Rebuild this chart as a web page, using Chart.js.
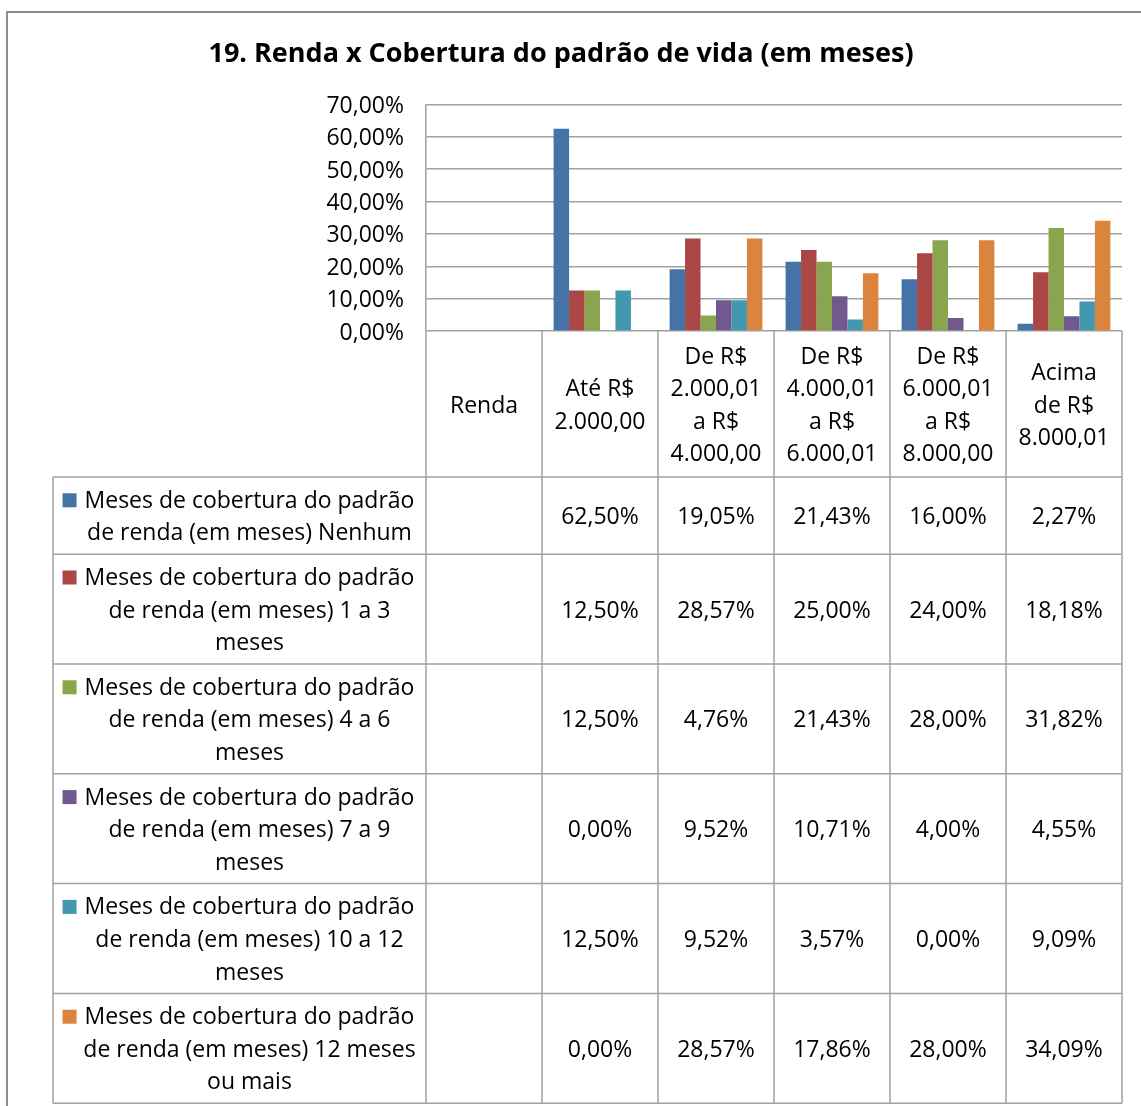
<!DOCTYPE html>
<html lang="pt-BR">
<head>
<meta charset="utf-8">
<title>19. Renda x Cobertura do padrão de vida (em meses)</title>
<script src="https://cdn.jsdelivr.net/npm/chart.js@4.4.1/dist/chart.umd.min.js"></script>
<style>
  html, body { margin: 0; padding: 0; background: #fff; }
  #wrap { position: relative; width: 1141px; height: 1106px; overflow: hidden; }
  #frame { position: absolute; left: 6px; top: 11px; width: 1200px; height: 1200px; border: 2px solid #8c8c8c; }
  canvas { position: absolute; left: 0; top: 0; }
</style>
</head>
<body>
<div id="wrap">
  <div id="frame"></div>
  <canvas id="chart" width="1141" height="1106"></canvas>
</div>
<script>
// categories (already split into lines, like the data table header)
const categories = [
  ["Renda"],
  ["Até R$", "2.000,00"],
  ["De R$", "2.000,01", "a R$", "4.000,00"],
  ["De R$", "4.000,01", "a R$", "6.000,01"],
  ["De R$", "6.000,01", "a R$", "8.000,00"],
  ["Acima", "de R$", "8.000,01"]
];

const seriesNames = [
  ["Meses de cobertura do padrão", "de renda (em meses) Nenhum"],
  ["Meses de cobertura do padrão", "de renda (em meses) 1 a 3", "meses"],
  ["Meses de cobertura do padrão", "de renda (em meses) 4 a 6", "meses"],
  ["Meses de cobertura do padrão", "de renda (em meses) 7 a 9", "meses"],
  ["Meses de cobertura do padrão", "de renda (em meses) 10 a 12", "meses"],
  ["Meses de cobertura do padrão", "de renda (em meses) 12 meses", "ou mais"]
];

// values in %
const nenhum    = [null, 62.50, 19.05, 21.43, 16.00, 2.27];
const meses1a3  = [null, 12.50, 28.57, 25.00, 24.00, 18.18];
const meses4a6  = [null, 12.50, 4.76, 21.43, 28.00, 31.82];
const meses7a9  = [null, 0.00, 9.52, 10.71, 4.00, 4.55];
const meses10a12 = [null, 12.50, 9.52, 3.57, 0.00, 9.09];
const meses12mais = [null, 0.00, 28.57, 17.86, 28.00, 34.09];

const yMin = 0, yMax = 70, yStep = 10;

const colors = ["#4572A7", "#AA4643", "#89A54E", "#71588F", "#4198AF", "#DB843D"];
const FONT = "'Open Sans'";
const TEXT = "#000";
const LINE = "#a0a0a0";

const fmt = v => v.toFixed(2).replace(".", ",") + "%";

const allSeries = [nenhum, meses1a3, meses4a6, meses7a9, meses10a12, meses12mais];

// draws the data table under the plot, columns follow the x scale
const dataTable = {
  id: "dataTable",
  afterDraw(chart) {
    const { ctx, chartArea, scales: { x } } = chart;
    const half = (x.getPixelForValue(1) - x.getPixelForValue(0)) / 2;
    const edges = categories.map((c, i) => x.getPixelForValue(i) - half);
    edges.push(x.getPixelForValue(categories.length - 1) + half);

    const labelLeft = 53;
    const lineH = 32.6;
    const headerH = 146;
    const rowH = n => n * lineH + 12;
    const dy = 2; // small nudge so text sits like the original
    const key = 14, gap = 8;

    const top = chartArea.bottom;
    const rowTops = [top + headerH];
    seriesNames.forEach(n => rowTops.push(rowTops[rowTops.length - 1] + rowH(n.length)));
    const bottom = rowTops[rowTops.length - 1];

    ctx.save();
    ctx.strokeStyle = LINE;
    ctx.lineWidth = 1.5;
    ctx.beginPath();
    edges.forEach(ex => { ctx.moveTo(ex, top); ctx.lineTo(ex, bottom); });
    ctx.moveTo(labelLeft, rowTops[0]); ctx.lineTo(labelLeft, bottom);
    rowTops.forEach(ry => { ctx.moveTo(labelLeft, ry); ctx.lineTo(edges[edges.length - 1], ry); });
    ctx.stroke();

    ctx.fillStyle = TEXT;
    ctx.font = "23px " + FONT;
    ctx.textAlign = "center";
    ctx.textBaseline = "middle";

    // header
    categories.forEach((lines, i) => {
      const cx = x.getPixelForValue(i);
      const cy = top + headerH / 2 + dy;
      lines.forEach((t, k) => ctx.fillText(t, cx, cy + (k - (lines.length - 1) / 2) * lineH));
    });

    // rows: label text centred right of the legend key space
    const lx = (labelLeft + edges[0]) / 2 + (key + gap) / 2 - 1;
    seriesNames.forEach((lines, r) => {
      const y0 = rowTops[r], y1 = rowTops[r + 1];
      const cy = (y0 + y1) / 2 + dy;
      lines.forEach((t, k) => {
        const ly = cy + (k - (lines.length - 1) / 2) * lineH;
        ctx.fillText(t, lx, ly);
        if (k === 0) {
          const sx = lx - ctx.measureText(t).width / 2 - gap - key;
          ctx.fillStyle = colors[r];
          ctx.fillRect(sx, ly - key / 2 - 1, key, key);
          ctx.fillStyle = TEXT;
        }
      });
      allSeries[r].forEach((v, i) => {
        if (v === null) return;
        ctx.fillText(fmt(v), x.getPixelForValue(i), cy);
      });
    });
    ctx.restore();
  }
};

new Chart(document.getElementById("chart"), {
  type: "bar",
  data: {
    labels: categories,
    datasets: allSeries.map((d, i) => ({
      label: seriesNames[i].join(" "),
      data: d,
      backgroundColor: colors[i],
      borderWidth: 0,
      categoryPercentage: 0.8,
      barPercentage: 1.0
    }))
  },
  options: {
    responsive: false,
    animation: false,
    layout: { padding: { top: 0, right: 19, bottom: 775, left: 0 } },
    plugins: {
      legend: { display: false },
      tooltip: { enabled: false },
      title: {
        display: true,
        text: "19. Renda x Cobertura do padrão de vida (em meses)",
        color: TEXT,
        font: { family: FONT, size: 27, weight: "bold" },
        padding: { top: 38, bottom: 34 }
      }
    },
    scales: {
      x: { display: false },
      y: {
        min: yMin,
        max: yMax,
        ticks: {
          stepSize: yStep,
          color: TEXT,
          font: { family: FONT, size: 23 },
          padding: 22,
          labelOffset: 2,
          callback: v => fmt(v)
        },
        grid: { color: LINE, lineWidth: 1.5, drawTicks: false },
        border: { display: true, color: LINE, width: 1.5 },
        afterFit(scale) { scale.width = 426; }
      }
    }
  },
  plugins: [dataTable]
});
</script>
</body>
</html>
